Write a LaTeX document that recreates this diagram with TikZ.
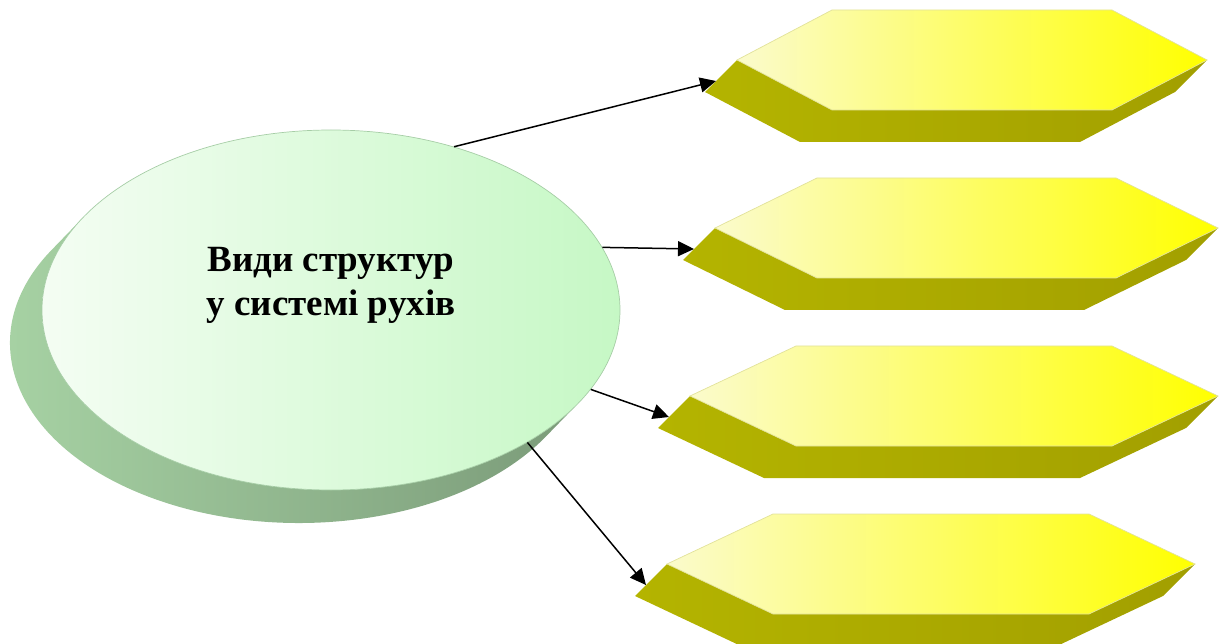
\documentclass[tikz,border=0pt]{standalone}
\usepackage{fontspec}
\setmainfont{Liberation Serif}
\usepackage{tikz}
\usetikzlibrary{arrows.meta,calc,shapes.geometric,positioning}

\definecolor{barlight}{HTML}{FBFBCC}
\definecolor{barmid}{HTML}{FBFB98}
\definecolor{barfull}{HTML}{FFFF00}
\definecolor{barline}{HTML}{E2E29A}
\definecolor{barside}{HTML}{A29F00}
\definecolor{barsidelight}{HTML}{B4B400}
\definecolor{ovallight}{HTML}{F4FDF3}
\definecolor{ovalgreen}{HTML}{C6F8C5}
\definecolor{ovalline}{HTML}{A6CDA6}
\definecolor{ovalsidelight}{HTML}{A9D5A6}
\definecolor{ovalside}{HTML}{7B9B79}

\tikzset{
	bar top/.style={left color=barlight, middle color=barmid, right color=barfull,
		draw=barline, line width=0.7pt},
	bar side/.style={left color=barsidelight, right color=barside},
	oval/.style={ellipse, inner sep=0pt, left color=ovallight, right color=ovalgreen,
		draw=ovalline, line width=0.7pt},
	oval side/.style={left color=ovalsidelight, right color=ovalside},
	title/.style={align=center, font=\bfseries\fontsize{37}{44}\selectfont},
	link/.style={line width=1.5pt, -{Triangle[length=16pt,width=15pt]}}
}

% prism bar: #1 name, #2 left x, #3 right x, #4 middle y, #5 inset of the top edge
\newcommand{\prismbar}[5]{%
	\coordinate (#1-l) at (#2,#4);
	\coordinate (#1-tl) at (#2+#5,#4-50);
	\coordinate (#1-tr) at (#3-#5,#4-50);
	\coordinate (#1-r) at (#3,#4);
	\coordinate (#1-br) at (#3-#5,#4+50);
	\coordinate (#1-bl) at (#2+#5,#4+50);
	\coordinate (#1-in) at ($(#1-l)+(-21,21)$);
	\shade[bar side] (#1-l) -- ++(-32,32) -- ($(#1-bl)+(-32,32)$) -- ($(#1-br)+(-32,32)$)
		-- ($(#1-r)+(-32,32)$) -- (#1-r) -- (#1-br) -- (#1-bl) -- cycle;
	\shade[bar top] (#1-l) -- (#1-tl) -- (#1-tr) -- (#1-r) -- (#1-br) -- (#1-bl) -- cycle;
}

\begin{document}
\begin{tikzpicture}[x=1pt,y=-1pt]
	\useasboundingbox (0,0) rectangle (1224,644);

	% the four bars on the right
	\prismbar{bar1}{737}{1207}{60}{95}
	\prismbar{bar2}{715}{1218}{228}{102}
	\prismbar{bar3}{690}{1218}{396}{106}
	\prismbar{bar4}{667}{1195}{564}{106}

	% the oval with its thick rim
	\coordinate (c) at (331,310);
	\shade[oval side] ($(c)+(211.9:289 and 180)$) -- ++(-32,33)
		arc[start angle=211.9, end angle=31.9, x radius=289, y radius=180]
		-- ($(c)+(31.9:289 and 180)$)
		arc[start angle=31.9, end angle=211.9, x radius=289, y radius=180] -- cycle;
	\node[oval, minimum width=578pt, minimum height=360pt] (root) at (c) {};
	\node[title] (rootlabel) at ([yshift=25pt]root.center) {Види структур\\у системі рухів};

	\draw[link] (root.53) -- (bar1-in);
	\draw[link] (root.13) -- (bar2-in);
	\draw[link] (root.-17) -- (bar3-in);
	\draw[link] (root.-34) -- (bar4-in);
\end{tikzpicture}
\end{document}
